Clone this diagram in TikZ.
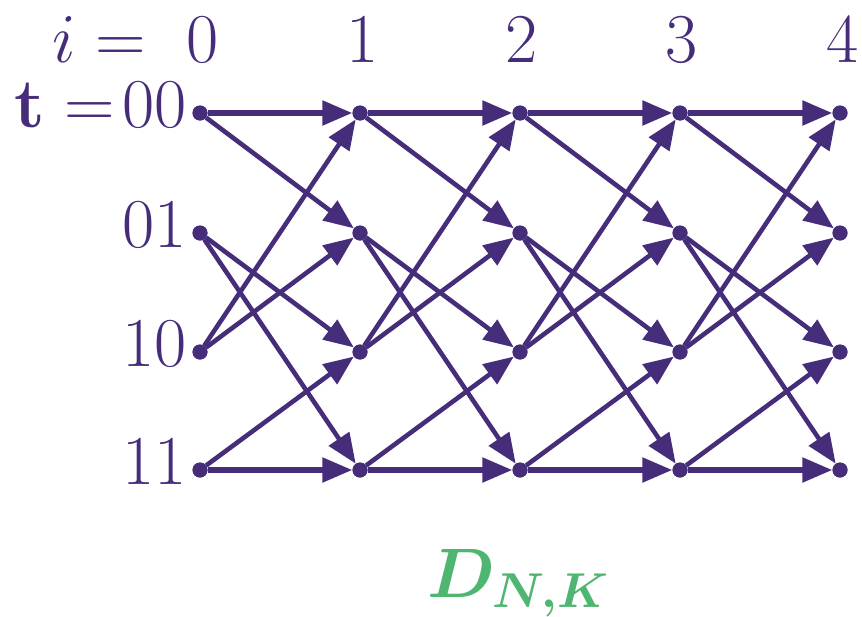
\documentclass[tikz,border=0pt]{standalone}
\usepackage{fix-cm}
\usepackage{amsmath,bm}
\usetikzlibrary{arrows.meta}
\definecolor{tpurple}{RGB}{70,45,122}
\definecolor{tgreen}{RGB}{78,182,112}
\tikzset{
  dot/.style={circle,fill=tpurple,inner sep=0pt,minimum size=15pt},
  edge/.style={draw=tpurple,line width=4.6pt,-{Triangle[length=30pt,width=24pt]}},
  hedge/.style={edge,line width=5.4pt},
  lab/.style={text=tpurple,inner sep=0pt,font=\fontsize{70}{80}\selectfont},
}
\begin{document}
\begin{tikzpicture}[x=1pt,y=-1pt]
\useasboundingbox (0,0) rectangle (862,616);
% columns and rows
\foreach \i/\x in {0/200,1/360,2/520,3/680,4/840}{
  \foreach \s/\y in {0/113,1/233,2/352,3/470}{
    \node[dot] (n\i\s) at (\x,\y) {};
  }
}
% top labels
\node[lab,anchor=base east] (ilab) at (146,62) {$i=$};
\node[lab,anchor=base] (c0) at (203,62) {$0$};
\node[lab,anchor=base] (c1) at (363,62) {$1$};
\node[lab,anchor=base] (c2) at (522,62) {$2$};
\node[lab,anchor=base] (c3) at (682,62) {$3$};
\node[lab,anchor=base] (c4) at (843,62) {$4$};
% row labels
\node[lab,anchor=base east] (r0) at (187,127) {$\mathbf{t}=\!00$};
\node[lab,anchor=base east] (r1) at (187,247) {$01$};
\node[lab,anchor=base east] (r2) at (187,366) {$10$};
\node[lab,anchor=base east] (r3) at (187,484) {$11$};
% edges
\foreach \i/\j in {0/1,1/2,2/3,3/4}{
  \draw[hedge] (n\i0) -- (n\j0);
  \draw[edge] (n\i0) -- (n\j1);
  \draw[edge] (n\i1) -- (n\j2);
  \draw[edge] (n\i1) -- (n\j3);
  \draw[edge] (n\i2) -- (n\j0);
  \draw[edge] (n\i2) -- (n\j1);
  \draw[edge] (n\i3) -- (n\j2);
  \draw[hedge] (n\i3) -- (n\j3);
}
% redraw dots on top
\foreach \i/\x in {0/200,1/360,2/520,3/680,4/840}{
  \foreach \s/\y in {0/113,1/233,2/352,3/470}{
    \fill[tpurple] (\x,\y) circle (7.5pt);
  }
}
\node[lab,text=tgreen,anchor=base] (dnk) at (518,597) {$\boldsymbol{D_{N,K}}$};
\end{tikzpicture}
\end{document}
